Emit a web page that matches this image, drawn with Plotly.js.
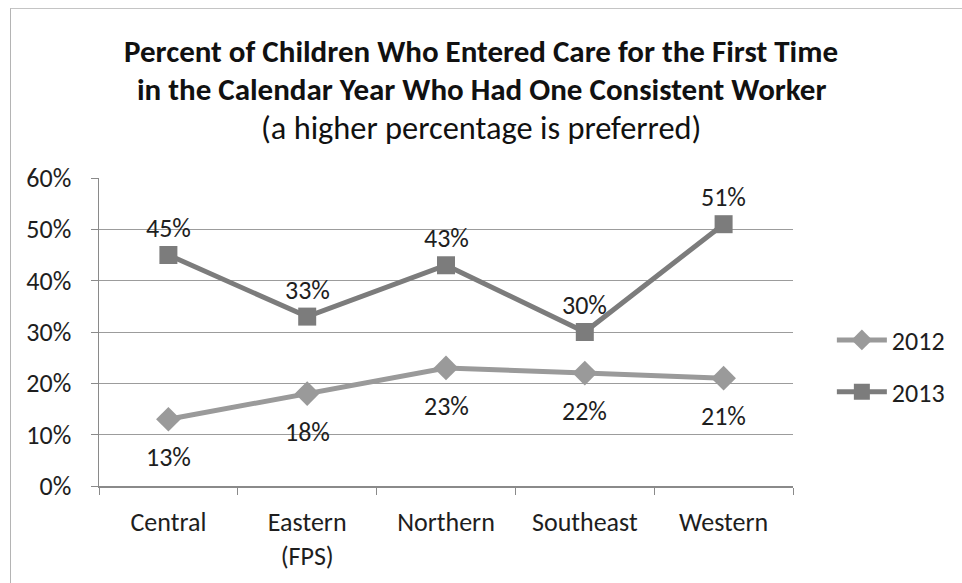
<!DOCTYPE html>
<html>
<head>
<meta charset="utf-8">
<script src="https://cdn.plot.ly/plotly-3.0.1.min.js"></script>
<style>
  html, body { margin: 0; padding: 0; background: #fff; }
  #wrap { position: relative; width: 962px; height: 583px; }
  #chart { width: 962px; height: 583px; }
  #frame { position: absolute; left: 10px; top: 8px; right: -2px; bottom: -2px;
           border-left: 1.5px solid #b4b4b4; border-top: 1.5px solid #c4c4c4; pointer-events: none; }
</style>
</head>
<body>
<div id="wrap">
  <div id="chart"></div>
  <div id="frame"></div>
</div>
<script>
// Regions and yearly percentages
const regions = ['Central', 'Eastern<br>(FPS)', 'Northern', 'Southeast', 'Western'];
const years = ['2012', '2013'];
const values2012 = [13, 18, 23, 22, 21];
const values2013 = [45, 33, 43, 30, 51];
const yTicks = [0, 10, 20, 30, 40, 50, 60];
const yTickText = yTicks.map(v => v + '%');
const titleLines = [
  'Percent of Children Who Entered Care for the First Time',
  'in the Calendar Year Who Had One Consistent Worker'
];
const subtitle = '(a higher percentage is preferred)';

const FONT = 'Carlito, Calibri, Lato, "Liberation Sans", sans-serif';
const TXT = '#1e1e1e';
const col2012 = '#9a9a9a';
const col2013 = '#7c7c7c';

const traces = [
  {
    x: regions, y: values2012, name: years[0], type: 'scatter', mode: 'lines+markers',
    line: { color: col2012, width: 5 },
    marker: { symbol: 'diamond', size: 19, color: col2012 },
    legendgroup: 'a', hoverinfo: 'skip'
  },
  {
    x: regions, y: values2013, name: years[1], type: 'scatter', mode: 'lines+markers',
    line: { color: col2013, width: 5 },
    marker: { symbol: 'square', size: 18, color: col2013 },
    legendgroup: 'b', hoverinfo: 'skip'
  }
];

// Plot area spans 99..798px across and 178..486px down; convert pixels to paper coords
const pxLeft = 99, pxRight = 798, pyTop = 178, pyBottom = 486;
const paperX = px => (px - pxLeft) / (pxRight - pxLeft);
const paperY = py => (pyBottom - py) / (pyBottom - pyTop);

const annotations = [];
// Value labels: 2012 below its points, 2013 above
regions.forEach((r, i) => {
  annotations.push({ x: r, y: values2012[i], text: values2012[i] + '%', showarrow: false,
    yshift: -38, font: { family: FONT, size: 26, color: TXT } });
  annotations.push({ x: r, y: values2013[i], text: values2013[i] + '%', showarrow: false,
    yshift: 27, font: { family: FONT, size: 26, color: TXT } });
});

// Chart heading, centred on the whole figure: two bold lines and a plain subtitle
[[titleLines[0], 50.5, true], [titleLines[1], 88.5, true], [subtitle, 127.5, false]].forEach(([t, py, bold]) => {
  annotations.push({
    xref: 'paper', yref: 'paper', x: paperX(484), y: paperY(py), xanchor: 'center', yanchor: 'middle',
    text: bold ? '<b>' + t + '</b>' : t, showarrow: false,
    font: { family: FONT, size: bold ? 31 : 32.4, color: '#111' }
  });
});

const layout = {
  width: 962, height: 583,
  margin: { l: 99, r: 164, t: 178, b: 97 },
  paper_bgcolor: '#fff', plot_bgcolor: '#fff',
  font: { family: FONT, color: TXT },
  xaxis: {
    type: 'category', tickson: 'boundaries', ticks: 'outside', ticklen: 7,
    tickcolor: '#8a8a8a', showline: true, linecolor: '#8a8a8a', linewidth: 1.5,
    showgrid: false, tickfont: { family: FONT, size: 26, color: TXT },
    ticklabelstandoff: 12, range: [-0.5, 4.5], fixedrange: true
  },
  yaxis: {
    range: [0, 60], tickvals: yTicks, ticktext: yTickText, ticks: 'outside', ticklen: 7,
    tickcolor: '#8a8a8a', showline: true, linecolor: '#8a8a8a', linewidth: 1.5,
    showgrid: true, gridcolor: '#9c9c9c', gridwidth: 1, zeroline: false,
    tickfont: { family: FONT, size: 26, color: TXT }, ticklabelstandoff: 14,
    fixedrange: true
  },
  legend: {
    x: 1.056, xanchor: 'left', y: paperY(366), yanchor: 'middle',
    traceorder: 'grouped', tracegroupgap: 15,
    font: { family: FONT, size: 26, color: TXT },
    itemwidth: 50, bgcolor: 'rgba(0,0,0,0)'
  },
  annotations: annotations,
  showlegend: true
};

Plotly.newPlot('chart', traces, layout, { displayModeBar: false, staticPlot: true });
</script>
</body>
</html>
